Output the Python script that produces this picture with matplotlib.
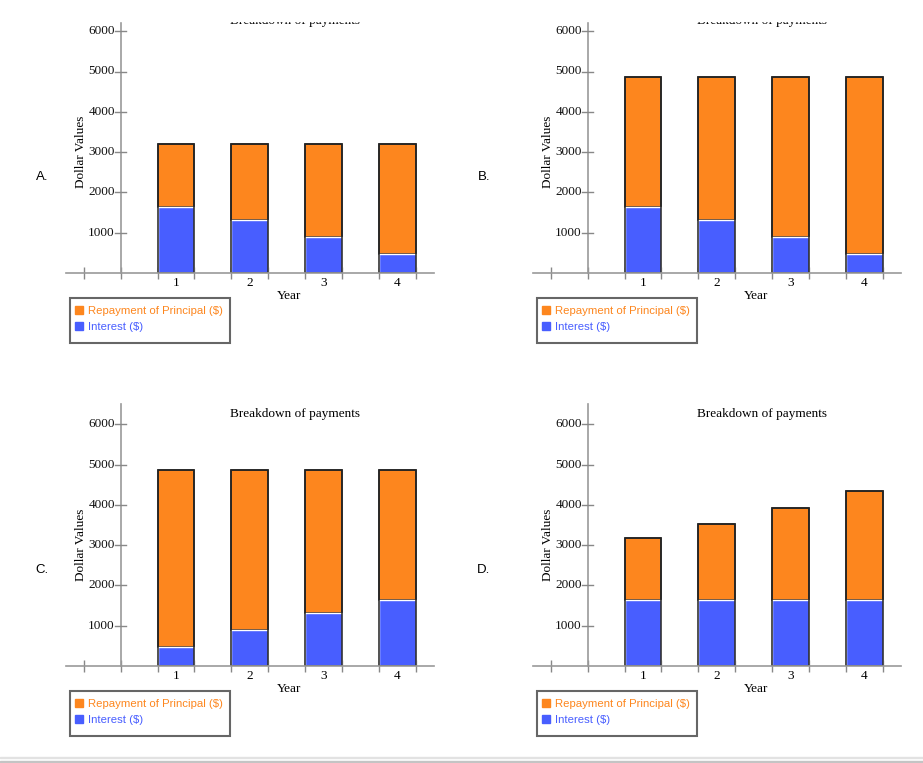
import matplotlib
matplotlib.use('Agg')
import matplotlib.pyplot as plt
from matplotlib.patches import Rectangle

# values
years = [1, 2, 3, 4]
interest_a = [1645, 1305, 900, 470]
principal_a = [1545, 1885, 2290, 2720]
interest_b = [1645, 1305, 900, 470]
principal_b = [3210, 3550, 3955, 4385]
interest_c = [470, 900, 1305, 1645]
principal_c = [4385, 3955, 3550, 3210]
interest_d = [1650, 1650, 1650, 1650]
principal_d = [1530, 1885, 2270, 2700]
letters = ['A.', 'B.', 'C.', 'D.']
y_ticks = [1000, 2000, 3000, 4000, 5000, 6000]

ORANGE = '#fd861e'
BLUE = '#485eff'
W, H = 923, 763
SERIF = 'Liberation Serif'
SANS = 'Liberation Sans'

fig = plt.figure(figsize=(W / 100, H / 100), dpi=100)

panels = [
    (interest_a, principal_a, 65.5, 273, 42),
    (interest_b, principal_b, 532.5, 273, 484),
    (interest_c, principal_c, 65.5, 666, 42),
    (interest_d, principal_d, 532.5, 666, 484),
]
unit_x = 73.7      # px per year
unit_y = 40.3      # px per 1000 $

for (interest, principal, left, zero, letter_x), letter in zip(panels, letters):
    ax = fig.add_axes([left / W, 1 - zero / H, 5 * unit_x / W, 6.5 * unit_y / H])
    ax.set_xlim(-0.5, 4.5)
    ax.set_ylim(0, 6500)
    for s in ax.spines.values():
        s.set_visible(False)

    totals = [i + p for i, p in zip(interest, principal)]
    ax.bar(years, principal, 0.5, bottom=interest, color=ORANGE,
           edgecolor='#222222', linewidth=1.1, zorder=2)
    ax.bar(years, interest, 0.5, color=BLUE, edgecolor='white',
           linewidth=1.0, zorder=3)
    ax.bar(years, totals, 0.5, fill=False, edgecolor='#222222',
           linewidth=1.1, zorder=4)

    # axes lines
    ax.plot([-0.5, 4.5], [0, 0], color='#999999', lw=1.2, zorder=5, clip_on=False)
    ax.plot([0.25, 0.25], [0, 6500], color='#999999', lw=1.2, zorder=5, clip_on=False)

    # y ticks crossing the y-axis, labels just left of them
    ax.set_yticks([])
    for v in y_ticks:
        ax.plot([0.25 - 0.075, 0.25 + 0.075], [v, v], color='#888888', lw=1,
                zorder=5, clip_on=False)
        ax.text(0.25 - 0.08, v, str(v), ha='right', va='center',
                fontfamily=SERIF, fontsize=9.5, color='#111111')

    ax.set_xticks(years)
    ax.set_xticklabels([str(y) for y in years], fontfamily=SERIF, fontsize=9.5)
    ax.tick_params(axis='x', length=0, pad=3)
    ax.set_xticks([-0.25 + 0.5 * k for k in range(10)], minor=True)
    ax.tick_params(axis='x', which='minor', direction='inout', length=9,
                   width=1, color='#888888')

    ax.text(2.54, -560, 'Year', ha='center', va='center',
            fontfamily=SERIF, fontsize=9.5)
    ax.text(-0.29, 3000, 'Dollar Values', ha='center', va='center',
            rotation=90, fontfamily=SERIF, fontsize=9.5)
    ax.text(2.61, 6250, 'Breakdown of payments', ha='center', va='center',
            fontfamily=SERIF, fontsize=9.5)

    fig.text(letter_x / W, 1 - (zero - 96) / H, letter, ha='center', va='center',
             fontfamily=SANS, fontsize=9.5)

    # legend box
    box_top = zero + 25
    fig.add_artist(Rectangle((left + 4.5, H - box_top - 45), 160, 45,
                             transform=None, fill=False, edgecolor='#666666',
                             linewidth=1.5, zorder=6))
    h1 = Rectangle((0, 0), 1, 1, color=ORANGE)
    h2 = Rectangle((0, 0), 1, 1, color=BLUE)
    leg = ax.legend([h1, h2], ['Repayment of Principal ($)', 'Interest ($)'],
                    loc='upper left',
                    bbox_to_anchor=((left + 9) / W, 1 - (box_top + 8) / H),
                    bbox_transform=fig.transFigure, frameon=False,
                    borderaxespad=0, borderpad=0,
                    handlelength=0.75, handleheight=0.75, handletextpad=0.45,
                    labelspacing=0.5,
                    prop={'family': SANS, 'size': 8.2})
    for t, c in zip(leg.get_texts(), [ORANGE, BLUE]):
        t.set_color(c)

# top strip of the screenshot covers the titles of the upper panels
fig.add_artist(Rectangle((0, 1 - 21 / H), 1, 21 / H, transform=fig.transFigure,
                         color='white', zorder=10))
fig.add_artist(Rectangle((0, 1 - 758 / H), 1, 1.2 / H, transform=fig.transFigure,
                         color='#e2e2e2', zorder=10))
fig.add_artist(Rectangle((0, 0), 1, 2.5 / H, transform=fig.transFigure,
                         color='#c4c4c4', zorder=10))

fig.savefig('out.png', dpi=100)
